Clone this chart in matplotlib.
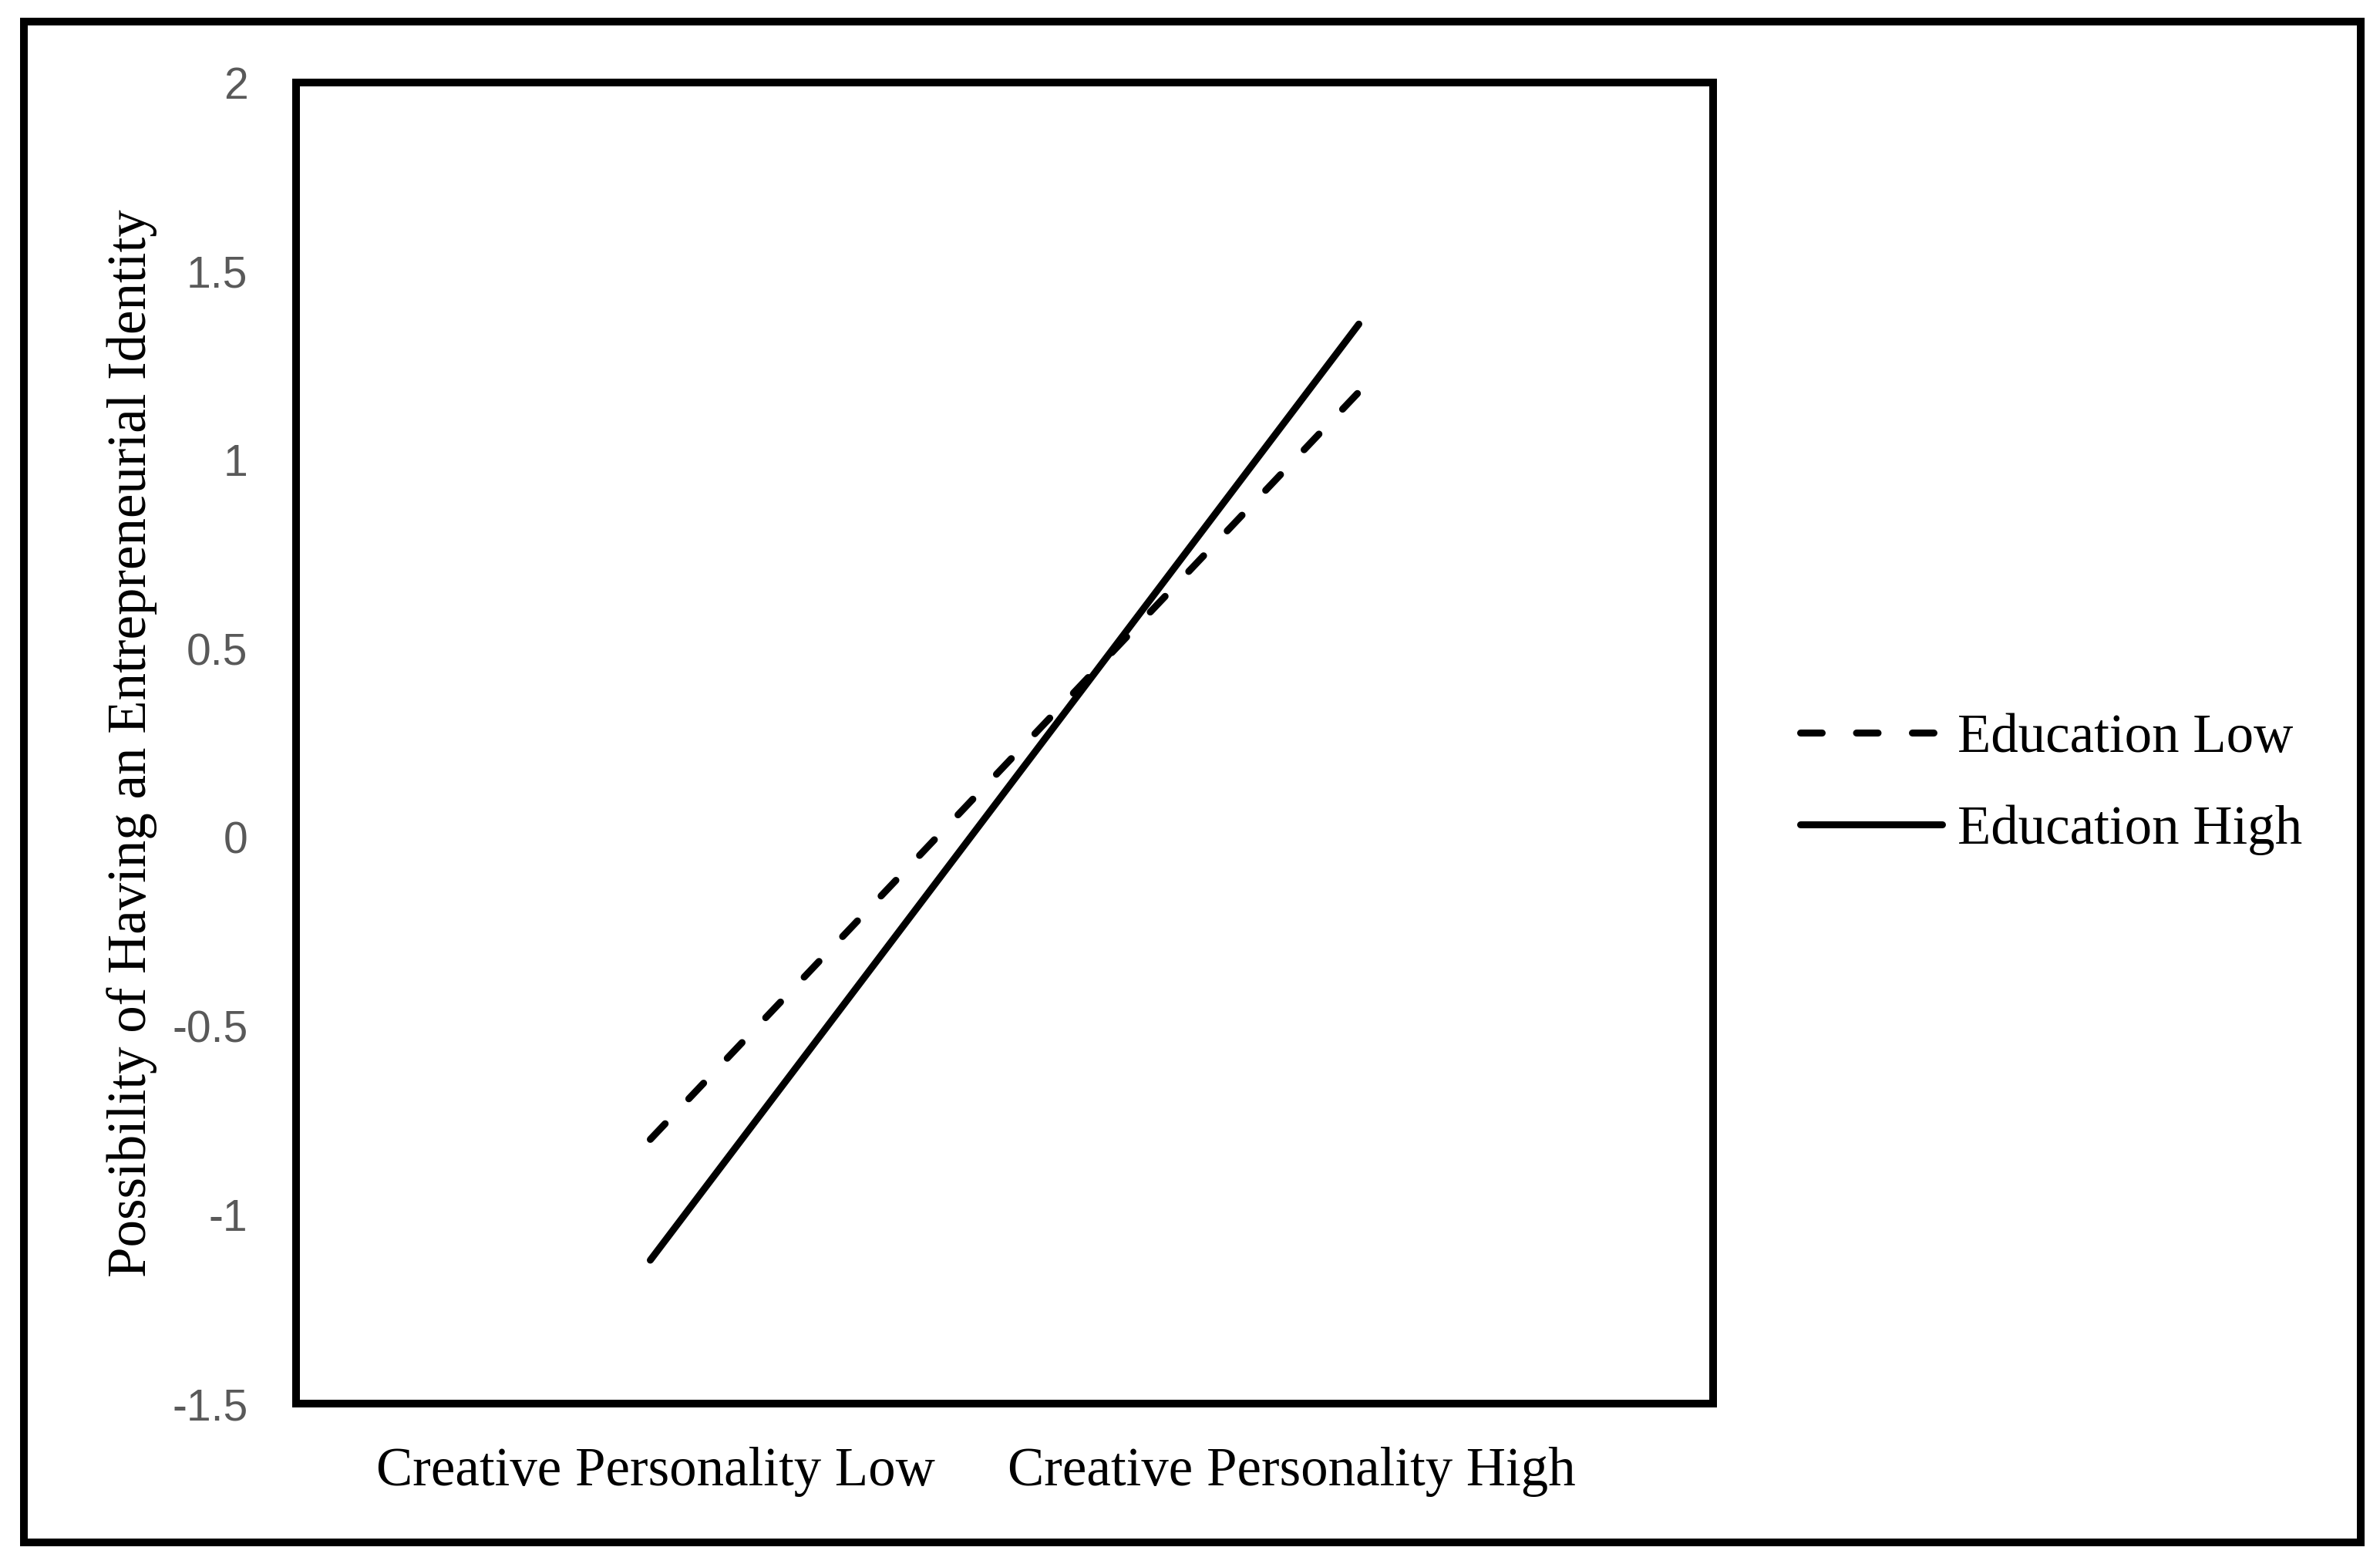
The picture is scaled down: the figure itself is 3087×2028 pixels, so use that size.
import matplotlib
matplotlib.use("Agg")
import matplotlib.pyplot as plt
from matplotlib.patches import Rectangle
from matplotlib import font_manager

# ---- data ----
categories = ["Creative Personality Low", "Creative Personality High"]
cat_pos = [0, 1]
label_pos = [0.008, 0.905]
edu_low = [-0.80, 1.18]
edu_high = [-1.12, 1.36]
series_names = ["Education Low", "Education High"]
y_ticks = [-1.5, -1, -0.5, 0, 0.5, 1, 1.5, 2]
y_tick_labels = ["-1.5", "-1", "-0.5", "0", "0.5", "1", "1.5", "2"]
y_title = "Possibility of Having an Entrepreneurial Identity"

names = {f.name for f in font_manager.fontManager.ttflist}
serif = "Liberation Serif"
narrow = "Liberation Sans Narrow" if "Liberation Sans Narrow" in names else "Liberation Sans"

W, H = 3087, 2028
DPI = 100
fig = plt.figure(figsize=(W / DPI, H / DPI), dpi=DPI)

# outer frame
x0, x1, yt, yb = 31, 3062, 28, 2000
fig.patches.append(Rectangle((x0 / W, (H - yb) / H), (x1 - x0) / W, (yb - yt) / H,
                             transform=fig.transFigure, fill=False, edgecolor="black",
                             linewidth=7.2, joinstyle="miter"))

ax_l, ax_r, ax_t, ax_b = 384, 2222, 107, 1820
ax = fig.add_axes([ax_l / W, (H - ax_b) / H, (ax_r - ax_l) / W, (ax_b - ax_t) / H])

lw = 6.5
ax.plot(cat_pos, edu_low, color="black", linewidth=lw, linestyle=(0, (3.1, 4.93)),
        dash_capstyle="round", solid_capstyle="round", label=series_names[0])
ax.plot(cat_pos, edu_high, color="black", linewidth=lw, solid_capstyle="round",
        label=series_names[1])

ax.set_xlim(-0.5, 1.5)
ax.set_ylim(-1.5, 2)
ax.set_yticks(y_ticks)
ax.set_yticklabels(y_tick_labels, family=narrow, fontsize=41, color="#595959")
ax.set_xticks(label_pos)
ax.set_xticklabels(categories, family=serif, fontsize=51, color="black")
ax.tick_params(axis="y", length=0, pad=45)
ax.tick_params(axis="x", length=0, pad=40)

for s in ax.spines.values():
    s.set_linewidth(7.2)
    s.set_color("black")
    s.set_joinstyle("miter")

ax.set_ylabel(y_title, family=serif, fontsize=51, va="center", ha="center")
ax.yaxis.set_label_coords(-0.116, 0.5)

leg = fig.legend(loc="center left", bbox_to_anchor=(2335 / W, (H - 1017) / H),
                 frameon=False, prop={"family": serif, "size": 51},
                 handlelength=2.6, handletextpad=0.28, labelspacing=0.76,
                 borderpad=0, borderaxespad=0)

fig.savefig("out.png", dpi=DPI)
